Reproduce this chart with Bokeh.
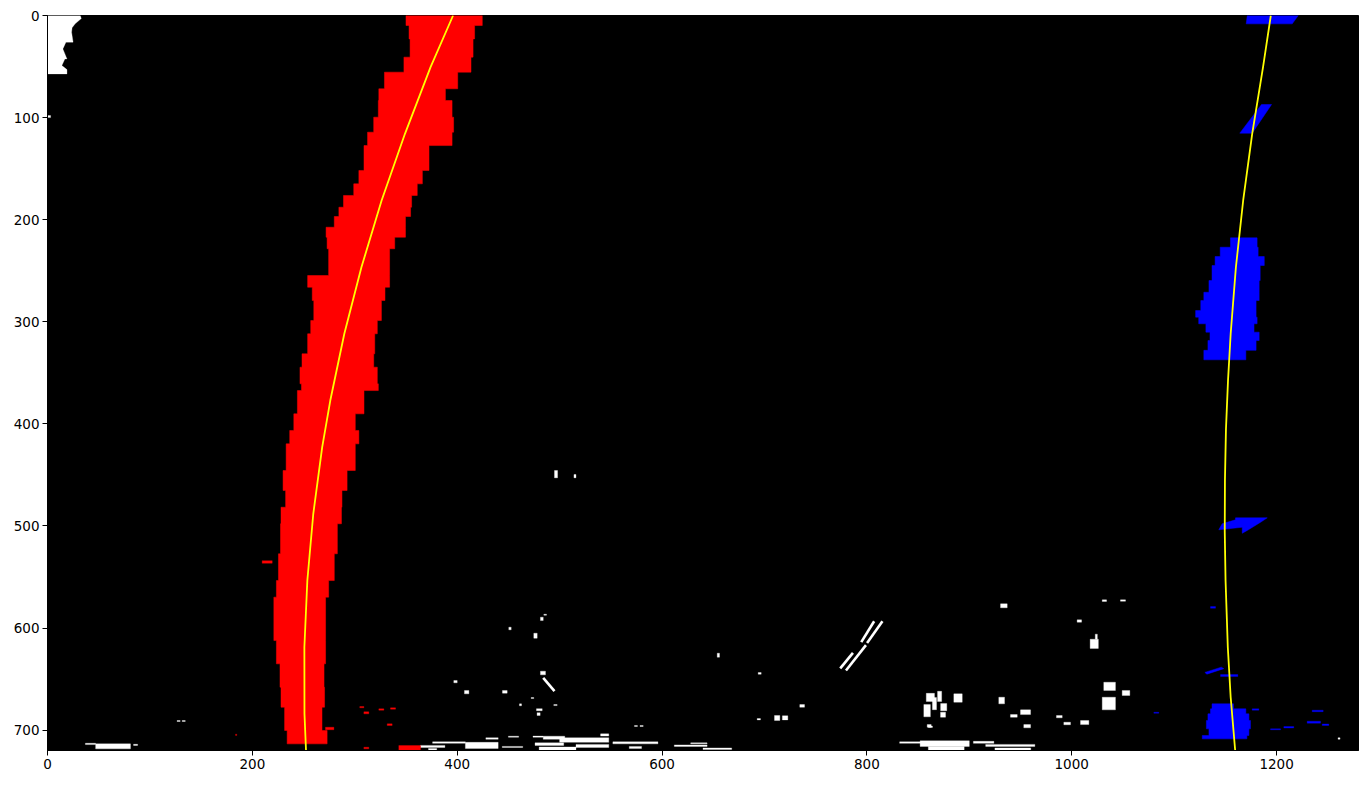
import numpy as np
from bokeh.plotting import figure
from bokeh.models import Range1d, FixedTicker
from bokeh.embed import file_html
from bokeh.resources import INLINE

# image size (pixels of the warped binary frame)
img_w, img_h = 1280, 720

red_row_y = [0, 9.8, 22.9, 40.8, 55.5, 71.8, 83.3, 99.6, 114.3, 127.4,
             151.8, 164.9, 176.3, 187.8, 196.9, 207.4, 217.2, 228.5, 254.7, 266.2,
             279.2, 298.8, 311.8, 331.4, 344.5, 360.8, 367.4, 390.2, 406.5, 419.6,
             445.7, 465.3, 481.7, 497.9, 527.3, 553.5, 569.8, 612.3, 635.1, 658.0,
             677.6, 700.4, 713.5]
red_left = [350, 353, 354, 348, 329, 323.5, 323, 318.5, 312.5, 309,
            304, 299, 289, 284.5, 280, 272, 273, 274.5, 254, 258.5,
            260, 257, 254, 248.5, 246.5, 248, 244, 240.5, 236.5, 233,
            230, 232.5, 228, 227.5, 225.5, 223.5, 221, 223.5, 227, 228,
            231.5, 234]
red_right = [424.5, 417, 415.5, 413.5, 400.5, 388.5, 395, 396.5, 395, 372.5,
             366, 361, 355.5, 354.5, 349.5, 349.5, 339, 334, 334, 329.5,
             326, 322, 319.5, 318.5, 322, 323, 309, 300.5, 304, 300.5,
             292.5, 287.5, 287, 283, 280, 274.5, 271.5, 271.5, 270, 270.5,
             268, 273]

# stray red pixels (x0, x1, y0, y1)
red_bits = [(209.6, 219.4, 534, 536.6), (304.9, 308.9, 676.9, 678.2), (308.9, 313.7, 682.1, 684.1),
            (323.5, 328.4, 679.2, 680.5), (334.9, 339.8, 678.2, 679.5), (331.7, 336.5, 693.9, 695.5),
            (271.4, 279.6, 697.2, 699.7), (343, 364.2, 715.1, 720), (308.9, 313.7, 716.8, 718.4),
            (183.6, 184.8, 704, 705.2)]

# right lane pixels (blue): main blob as bands
blue_row_y = [217.8, 227.0, 236.1, 244.9, 259.6, 271.1, 279.2, 289.0, 295.5, 302.0, 310.2, 318.4, 328.0, 337.3]
blue_left = [1155, 1145, 1140, 1137, 1134, 1129, 1126, 1121, 1124, 1131, 1135, 1133, 1129]
blue_right = [1181, 1182, 1188, 1184, 1183, 1183, 1180, 1180, 1181, 1178, 1183, 1180, 1170]

# lower blue blob as bands
blue_low_row_y = [674.3, 679.2, 684.1, 690.6, 698.8, 705.3, 708.6]
blue_low_left = [1137, 1135.5, 1133, 1131.5, 1134, 1127.5]
blue_low_right = [1158, 1170, 1173, 1174.5, 1173, 1171]

# blue pieces drawn as polygons
blue_polys_x = [[1171.4, 1221.2, 1215.3, 1170.4],
                [1185.3, 1195.1, 1176.2, 1164.1],
                [1159.9, 1190.9, 1184.4, 1171.3, 1166.5, 1166.5, 1143.6, 1146.9, 1159.9],
                [1130, 1146, 1148.5, 1132]]
blue_polys_y = [[0, 0, 8.2, 8.2],
                [87.2, 87.2, 115.3, 115.3],
                [492.1, 492.1, 496.4, 504.5, 507.2, 501.3, 503.8, 497.9, 494.0],
                [643.5, 638.4, 639.8, 645.2]]

# small blue dashes (x0, x1, y0, y1)
blue_bits = [(1135.5, 1140.4, 579, 580.6), (1145.3, 1162.2, 645.6, 647.5), (1234.8, 1245.5, 680.5, 682),
             (1229.9, 1242.9, 691.3, 693.2), (1207.1, 1216.8, 696.5, 698), (1194.1, 1203.9, 698.8, 699.7),
             (1176.2, 1182.7, 679.2, 680.5), (1080.2, 1085, 682.5, 683.5), (1244.6, 1251, 694, 695.5)]

# top-left white patch, with slanted right edge
white_patch_x = [0, 32, 33, 27, 24, 23.5, 25, 18, 15, 19, 17, 14, 19, 19, 0]
white_patch_y = [0, 0, 3, 8.2, 12, 16.3, 26.1, 26.1, 32.7, 42.5, 42.5, 49, 53, 57.2, 57.2]

# other activated pixels (white), (x0, x1, y0, y1)
white_bits = [
    (0.5, 3, 98, 100),
    (37, 47, 712.9, 714.2), (47, 81, 713.5, 718.4), (84, 88, 713.9, 715),
    (126.5, 129.5, 690.6, 691.6), (131.5, 134.5, 690.6, 691.6),
    (495, 498, 445.7, 452.9), (514, 516, 449.6, 452.9),
    (484.6, 487.2, 586.5, 587.5), (481.3, 484, 589.4, 592.7), (450.4, 452.7, 599.2, 601.8),
    (474.8, 478.1, 605.1, 610), (653.9, 656.1, 624.7, 628.6), (693.9, 696.8, 643.6, 645.3),
    (481.3, 486.2, 642.3, 645.9), (396.7, 400, 651.4, 653.7), (407.1, 411.4, 661.2, 664.5),
    (444.2, 448.8, 661.2, 663.8), (472.2, 474.8, 668.1, 669.1), (460.8, 462.8, 674.3, 676.2),
    (494.3, 497.6, 675, 676), (477.4, 483, 679, 681), (478, 481, 683, 685.7),
    (573.1, 576, 695.5, 696.5), (578.5, 581.6, 695.5, 696.5), (692.9, 696.1, 688.7, 690),
    (709.8, 715, 685.7, 690.6), (717.5, 722.8, 686, 690), (734.5, 739.1, 675, 677.6),
    (930.5, 937, 576.3, 580.2), (1029.8, 1034, 572.4, 574), (1047.6, 1052.5, 572.4, 573.8),
    (1005.3, 1009.6, 592, 594.3), (1018, 1026, 611, 620), (1023, 1025, 606, 611),
    (1031.3, 1042.7, 653.1, 661.2), (1029.8, 1042.7, 667.8, 680.2), (1049.3, 1056.7, 661.2, 666.1),
    (858, 866, 664, 672), (855.6, 862, 675, 687), (864, 868, 668, 680),
    (869, 873, 662, 672), (872, 878, 674, 681), (884.9, 893.1, 664.5, 672.7),
    (871.9, 876.8, 682.5, 687.4), (928.8, 934.4, 667.8, 674.3), (940.2, 946.8, 684.8, 687.4),
    (950, 959.8, 680.2, 684.8), (953.2, 959.8, 694.6, 697.8), (985.1, 990.7, 685.7, 688),
    (992.3, 998.8, 692.3, 694.8), (1008.6, 1016.7, 690.6, 694.6), (858.9, 862.8, 694.6, 697.2),
    (1260, 1262, 707.5, 709),
    # bottom band of noise
    (376, 408, 711.5, 713), (364, 388, 715, 717), (372, 380, 718, 719.4), (408, 440, 712, 718),
    (428, 440, 707.5, 709), (450, 460, 706, 707), (444, 464, 716, 717), (474, 484, 705.9, 707),
    (484, 505, 706, 709), (500, 548, 707.5, 712), (476, 504, 712.5, 715), (480, 516, 716.5, 719.4),
    (516, 548, 714, 717), (540, 548, 703.7, 705.9), (552, 596, 711.5, 713.5), (568, 580, 716, 718),
    (612, 644, 714.5, 716), (628, 644, 712.5, 713.5), (640, 668, 717.5, 719),
    (832, 856, 711.5, 713), (852, 900, 710.5, 716), (860, 895, 716, 719.4), (904, 924, 711, 713),
    (916, 964, 714, 716), (925, 960, 717.5, 719.4), (860, 864, 696, 697.5),
]

# streaks of white pixels (x0, y0, x1, y1)
white_streaks = [(484, 648.8, 495, 661.9), (774.0, 639.6, 786.4, 624.3), (794.5, 613.9, 807.1, 593.4),
                 (779.6, 641.6, 799.1, 616.8), (800.2, 614.6, 815.2, 593.4)]

# fitted lane lines (yellow)
left_fit_y = [0, 50.6, 115.9, 181.2, 246.6, 311.8, 377.2, 422.9, 488.1, 553.5, 618.8, 684, 720]
left_fit_x = [396, 374, 349, 326.2, 306.5, 289.8, 276.1, 268.2, 259.5, 253.7, 250.8, 250.9, 252.4]
right_fit_y = [0, 50.6, 115.9, 181.2, 246.6, 311.8, 357.6, 405, 455.5, 505, 553.5, 618.8, 667.8, 720]
right_fit_x = [1194.4, 1186.8, 1176.2, 1167.4, 1160.3, 1155.2, 1152.6, 1150.6, 1149.6, 1149.4, 1150.2, 1152.4, 1155.2, 1159.6]


def bands_to_outline(row_y, left, right):
    xs, ys = [], []
    for i in range(len(left)):
        xs += [left[i], left[i]]
        ys += [row_y[i], row_y[i + 1]]
    for i in reversed(range(len(right))):
        xs += [right[i], right[i]]
        ys += [row_y[i + 1], row_y[i]]
    return xs, ys


def bits_to_quads(bits):
    b = np.array(bits, dtype=float)
    return dict(left=b[:, 0], right=b[:, 1], top=b[:, 2], bottom=b[:, 3])


p = figure(frame_width=1311, frame_height=735, output_backend="svg", toolbar_location=None, tools="",
           x_range=Range1d(0, img_w), y_range=Range1d(img_h, 0),
           min_border_left=47, min_border_top=15, min_border_right=6, min_border_bottom=28)
p.background_fill_color = "black"
p.border_fill_color = "white"
p.outline_line_color = "black"
p.outline_line_width = 1
p.grid.visible = False

# white noise first, lanes drawn over it
p.patch(white_patch_x, white_patch_y, fill_color="white", line_color="white", line_width=0.3)
q = bits_to_quads(white_bits)
p.quad(left=q["left"], right=q["right"], top=q["top"], bottom=q["bottom"], color="white", line_width=0.3)
p.segment(x0=[s[0] for s in white_streaks], y0=[s[1] for s in white_streaks],
          x1=[s[2] for s in white_streaks], y1=[s[3] for s in white_streaks],
          line_color="white", line_width=2.6)

rx, ry = bands_to_outline(red_row_y, red_left, red_right)
p.patch(rx, ry, fill_color="#ff0000", line_color="#ff0000", line_width=0.5)
q = bits_to_quads(red_bits)
p.quad(left=q["left"], right=q["right"], top=q["top"], bottom=q["bottom"], color="#ff0000", line_width=0.3)

bx, by = bands_to_outline(blue_row_y, blue_left, blue_right)
p.patch(bx, by, fill_color="#0000ff", line_color="#0000ff", line_width=0.5)
bx, by = bands_to_outline(blue_low_row_y, blue_low_left, blue_low_right)
p.patch(bx, by, fill_color="#0000ff", line_color="#0000ff", line_width=0.5)
p.patches(blue_polys_x, blue_polys_y, fill_color="#0000ff", line_color="#0000ff", line_width=0.5)
q = bits_to_quads(blue_bits)
p.quad(left=q["left"], right=q["right"], top=q["top"], bottom=q["bottom"], color="#0000ff", line_width=0.3)

# polynomial fits
p.line(left_fit_x, left_fit_y, line_color="yellow", line_width=1.8)
p.line(right_fit_x, right_fit_y, line_color="yellow", line_width=1.8)

p.xaxis.ticker = FixedTicker(ticks=list(range(0, 1201, 200)))
p.yaxis.ticker = FixedTicker(ticks=list(range(0, 701, 100)))
for ax in (p.xaxis, p.yaxis):
    ax.major_label_text_font = "DejaVu Sans"
    ax.major_label_text_font_size = "13.5px"
    ax.major_label_text_color = "black"
    ax.axis_line_color = "black"
    ax.major_tick_line_color = "black"
    ax.major_tick_out = 5
    ax.major_tick_in = 0
    ax.minor_tick_line_color = None
    ax.major_label_standoff = 3

open("out.html", "w").write(file_html(p, INLINE))
